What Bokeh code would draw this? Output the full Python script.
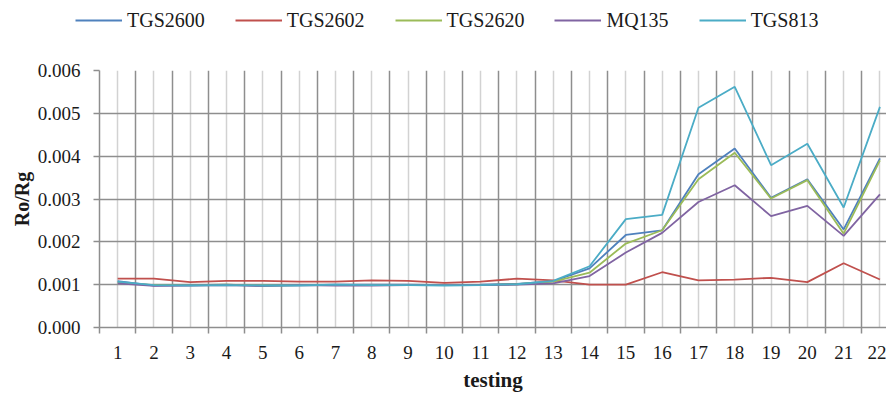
from bokeh.plotting import figure
from bokeh.models import FixedTicker, Legend, LegendItem, Range1d, NumeralTickFormatter
from bokeh.embed import file_html
from bokeh.resources import INLINE

testing = list(range(1, 23))
tgs2600 = [0.00108, 0.00098, 0.00099, 0.00100, 0.00097, 0.00099, 0.00100, 0.00100, 0.00100, 0.00099, 0.00100,
           0.00102, 0.00108, 0.00138, 0.00216, 0.00227, 0.00358, 0.00418, 0.00303, 0.00346, 0.00229, 0.00395]
tgs2602 = [0.00114, 0.00114, 0.00106, 0.00109, 0.00109, 0.00107, 0.00107, 0.00110, 0.00109, 0.00104, 0.00107,
           0.00114, 0.00110, 0.00100, 0.00100, 0.00129, 0.00110, 0.00112, 0.00116, 0.00106, 0.00150, 0.00112]
tgs2620 = [0.00105, 0.00099, 0.00099, 0.00100, 0.00098, 0.00099, 0.00099, 0.00099, 0.00099, 0.00099, 0.00099,
           0.00101, 0.00107, 0.00128, 0.00196, 0.00227, 0.00346, 0.00408, 0.00301, 0.00344, 0.00219, 0.00390]
mq135 = [0.00103, 0.00097, 0.00098, 0.00099, 0.00097, 0.00099, 0.00098, 0.00098, 0.00099, 0.00099, 0.00099,
         0.00100, 0.00103, 0.00120, 0.00175, 0.00221, 0.00293, 0.00332, 0.00260, 0.00284, 0.00214, 0.00311]
tgs813 = [0.00107, 0.00099, 0.00098, 0.00099, 0.00098, 0.00098, 0.00100, 0.00099, 0.00099, 0.00098, 0.00099,
          0.00101, 0.00109, 0.00143, 0.00253, 0.00263, 0.00513, 0.00562, 0.00379, 0.00429, 0.00280, 0.00515]
series_names = ["TGS2600", "TGS2602", "TGS2620", "MQ135", "TGS813"]
series_values = [tgs2600, tgs2602, tgs2620, mq135, tgs813]
series_colors = ["#4F81BD", "#C0504D", "#9BBB59", "#8064A2", "#4BACC6"]
y_ticks = [0.0, 0.001, 0.002, 0.003, 0.004, 0.005, 0.006]

FONT = "Liberation Serif"
DARK = "#8e8e8e"
LIGHT = "#d2d2d2"
TXT = "#1a1a1a"
LINE_W = 1.8

# ---- legend strip (top) ----
leg = figure(width=886, height=40, output_backend="svg", toolbar_location=None,
             x_axis_type=None, y_axis_type=None,
             min_border_left=0, min_border_right=0, min_border_top=0, min_border_bottom=0,
             x_range=Range1d(0.5, 22.5), y_range=Range1d(10, 11))
leg.outline_line_color = None
leg.xgrid.visible = False
leg.ygrid.visible = False
leg_items = []
for name, vals, col in zip(series_names, series_values, series_colors):
    r = leg.line(testing, vals, line_color=col, line_width=LINE_W)
    leg_items.append(LegendItem(label=name, renderers=[r]))
legend = Legend(items=leg_items, orientation="horizontal", location=(75, 8),
                glyph_width=47, glyph_height=24, label_height=24, label_standoff=5,
                spacing=30, padding=0, margin=0, border_line_alpha=0, background_fill_alpha=0,
                label_text_font=FONT, label_text_font_size="20px", label_text_color=TXT)
leg.add_layout(legend)

# ---- main chart ----
p = figure(width=886, height=355, output_backend="svg", toolbar_location=None,
           min_border_left=99, min_border_right=0, min_border_top=30, min_border_bottom=68,
           x_range=Range1d(0.5, 0.5 + 787 / 36.3), y_range=Range1d(0, 0.006))
p.outline_line_color = None

p.xaxis.ticker = FixedTicker(ticks=testing, minor_ticks=[t - 0.5 for t in testing] + [22.5])
p.xaxis.major_tick_out = 0
p.xaxis.major_tick_in = 0
p.xaxis.minor_tick_out = 6
p.xaxis.minor_tick_in = 0
p.xaxis.minor_tick_line_color = DARK
p.xaxis.minor_tick_line_width = 1.5
p.xaxis.axis_line_color = DARK
p.xaxis.axis_line_width = 1.5
p.xaxis.major_label_standoff = 12
p.xaxis.major_label_text_font = FONT
p.xaxis.major_label_text_font_size = "19px"
p.xaxis.major_label_text_color = TXT
p.xaxis.axis_label = "testing"
p.xaxis.axis_label_text_font = FONT
p.xaxis.axis_label_text_font_style = "bold"
p.xaxis.axis_label_text_font_size = "21px"
p.xaxis.axis_label_text_color = TXT
p.xaxis.axis_label_standoff = 6

p.yaxis.ticker = FixedTicker(ticks=y_ticks, minor_ticks=[])
p.yaxis.formatter = NumeralTickFormatter(format="0.000")
p.yaxis.major_tick_out = 6
p.yaxis.major_tick_in = 0
p.yaxis.major_tick_line_color = DARK
p.yaxis.major_tick_line_width = 1.5
p.yaxis.minor_tick_line_color = None
p.yaxis.axis_line_color = DARK
p.yaxis.axis_line_width = 1.5
p.yaxis.major_label_standoff = 13
p.yaxis.major_label_text_font = FONT
p.yaxis.major_label_text_font_size = "19px"
p.yaxis.major_label_text_color = TXT
p.yaxis.axis_label = "Ro/Rg"
p.yaxis.axis_label_text_font = FONT
p.yaxis.axis_label_text_font_style = "bold"
p.yaxis.axis_label_text_font_size = "20px"
p.yaxis.axis_label_text_color = TXT
p.yaxis.axis_label_standoff = 2

p.xgrid.grid_line_color = LIGHT
p.xgrid.grid_line_width = 1.5
p.xgrid.minor_grid_line_color = DARK
p.xgrid.minor_grid_line_width = 1.5
p.ygrid.grid_line_color = DARK
p.ygrid.grid_line_width = 1.5

for name, vals, col in zip(series_names, series_values, series_colors):
    p.line(testing, vals, line_color=col, line_width=LINE_W)

open("out.html", "w").write(file_html([leg, p], INLINE))
